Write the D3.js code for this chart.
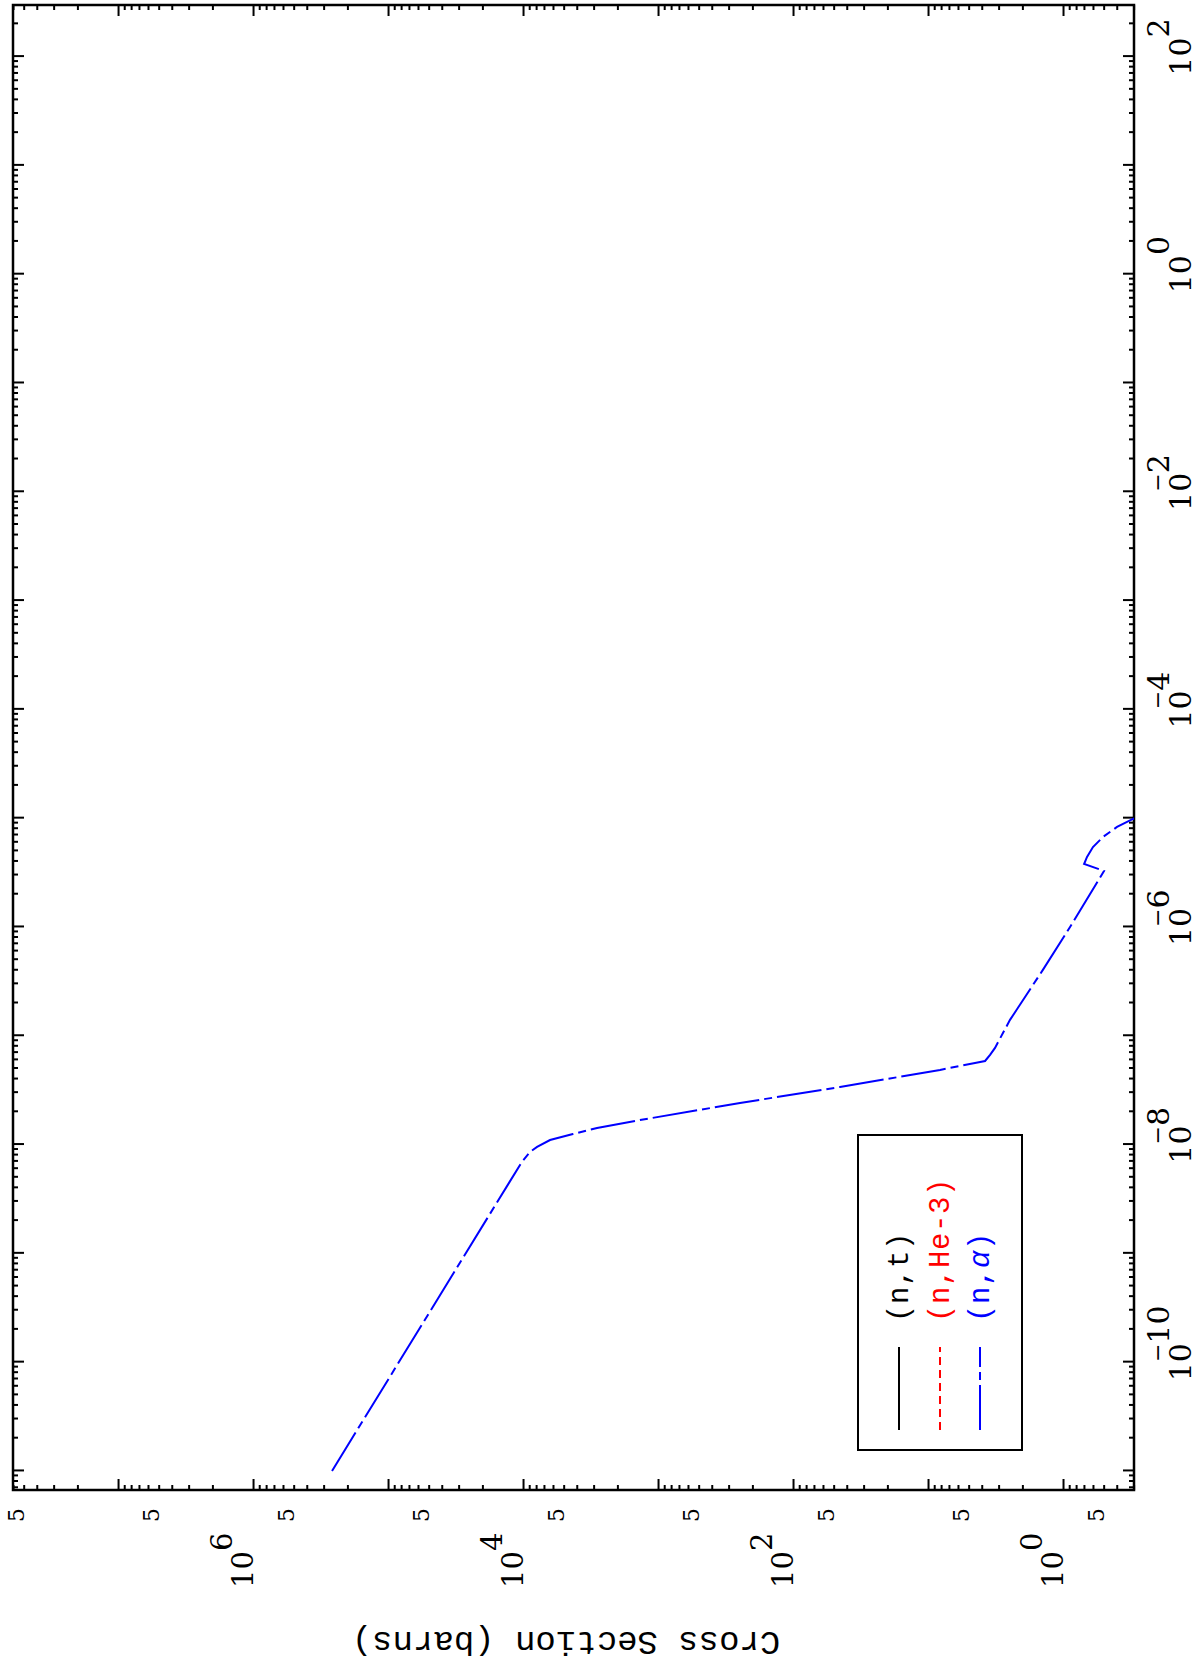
<!DOCTYPE html>
<html>
<head>
<meta charset="utf-8">
<script src="https://cdn.jsdelivr.net/npm/d3@7"></script>
<style>
body { margin: 0; background: #fff; }
</style>
</head>
<body>
<div id="chart"></div>
<script>
// series (energy in eV, cross section in barns)
const seriesNames = ["(n,t)", "(n,He-3)", "(n,\u03b1)"];
const ntEnergy = [], ntSigma = [];
const he3Energy = [], he3Sigma = [];
const alphaEnergy = [1.0e-11, 6.92e-9, 8.55e-9, 9.5e-9, 1.10e-8, 1.25e-8, 1.42e-8, 1.68e-8,
    2.41e-8, 3.38e-8, 4.85e-8, 5.62e-8, 5.86e-8, 6.67e-8, 7.73e-8, 1.40e-7, 4.03e-7, 1.0e-6,
    3.27e-6, 3.79e-6, 4.40e-6, 5.43e-6, 6.71e-6, 8.30e-6, 9.84e-6, 1.10e-5];
const alphaSigma = [2.6e5, 1.02e4, 8.87e3, 7.87e3, 6.31e3, 4.27e3, 2.83e3, 1.36e3,
    247, 44.9, 8.15, 4.49, 3.78, 3.47, 3.19, 2.47, 1.41, 0.887,
    0.497, 0.698, 0.664, 0.600, 0.506, 0.398, 0.303, 0.227];

// tick labels
const energyLabelExp = [-10, -8, -6, -4, -2, 0, 2];
const sigmaLabelExp = [0, 2, 4, 6];
const sigmaFiveExp = [-1, 0, 1, 2, 3, 4, 5, 6, 7];

// styles
const colors = ["#000000", "#ff0000", "#0000ff"];
const dashes = [null, "8,5", "45,5,8,5"];

const W = 1199, H = 1663;
// plot is drawn in landscape and turned by -90 degrees
const fLeft = 173, fRight = 1658, fTop = 13, fBottom = 1134;

let x = d3.scaleLog().domain([6.68e-12, 298]).range([fLeft, fRight]);
let y = d3.scaleLog().domain([0.298, 6.0e7]).range([fBottom, fTop]);

let svg = d3.select("#chart").append("svg")
    .attr("width", W)
    .attr("height", H)
    .style("background", "#fff");

let g = svg.append("g")
    .attr("transform", "translate(0," + H + ") rotate(-90)");

g.append("clipPath").attr("id", "frame")
    .append("rect")
    .attr("x", fLeft).attr("y", fTop)
    .attr("width", fRight - fLeft).attr("height", fBottom - fTop);

// tick values
function majorMinor(scale, e0, e1) {
    let [lo, hi] = scale.domain();
    let major = [], minor = [];
    for (let e = e0; e <= e1; e++) {
        let m = Math.pow(10, e);
        if (m >= lo && m <= hi) major.push(m);
        for (let k = 2; k <= 9; k++) {
            let v = k * m;
            if (v >= lo && v <= hi) minor.push(v);
        }
    }
    return [major, minor];
}
let [eMajor, eMinor] = majorMinor(x, -12, 2);
let [sMajor, sMinor] = majorMinor(y, -1, 7);

function drawTicks(axis, pos, vals, size) {
    let a = g.append("g")
        .attr("transform", pos)
        .call(axis.tickValues(vals).tickSize(size).tickSizeOuter(0).tickFormat(""));
    a.select(".domain").remove();
    a.selectAll("line").attr("stroke", "#000").attr("stroke-width", 2);
}
drawTicks(d3.axisBottom(x), "translate(0," + fBottom + ")", eMajor, -11);
drawTicks(d3.axisBottom(x), "translate(0," + fBottom + ")", eMinor, -5);
drawTicks(d3.axisTop(x), "translate(0," + fTop + ")", eMajor, -11);
drawTicks(d3.axisTop(x), "translate(0," + fTop + ")", eMinor, -5);
drawTicks(d3.axisLeft(y), "translate(" + fLeft + ",0)", sMajor, -11);
drawTicks(d3.axisLeft(y), "translate(" + fLeft + ",0)", sMinor, -5);
drawTicks(d3.axisRight(y), "translate(" + fRight + ",0)", sMajor, -11);
drawTicks(d3.axisRight(y), "translate(" + fRight + ",0)", sMinor, -5);

g.append("rect")
    .attr("x", fLeft).attr("y", fTop)
    .attr("width", fRight - fLeft).attr("height", fBottom - fTop)
    .attr("fill", "none")
    .attr("stroke", "#000")
    .attr("stroke-width", 2.5);

// energy labels: "10" centred on the tick, exponent hanging after it
energyLabelExp.forEach(function (e) {
    let t = g.append("text")
        .attr("y", 1191)
        .style("font-family", "'DejaVu Serif', serif")
        .style("font-size", "30px")
        .attr("fill", "#000");
    let base = t.append("tspan").text("10");
    if (e < 0) {
        t.append("tspan").text("\u2212").attr("dx", -19).attr("dy", -26).style("font-size", "22px");
        t.append("tspan").text(String(-e)).attr("dy", 4);
    } else {
        t.append("tspan").text(String(e)).attr("dy", -22);
    }
    let len = base.node().getComputedTextLength();
    t.attr("x", x(Math.pow(10, e)) - len / 2);
});

// cross-section labels
sigmaLabelExp.forEach(function (e) {
    let t = g.append("text")
        .attr("x", 75)
        .attr("y", y(Math.pow(10, e)))
        .style("font-family", "'DejaVu Serif', serif")
        .style("font-size", "29px")
        .attr("fill", "#000");
    t.append("tspan").text("10");
    t.append("tspan").text(String(e)).attr("dy", -21);
});

g.selectAll(".five")
    .data(sigmaFiveExp)
    .enter()
    .append("text")
    .attr("class", "five")
    .attr("x", 148)
    .attr("y", function (d) { return y(5 * Math.pow(10, d)); })
    .attr("text-anchor", "middle")
    .style("font-family", "'DejaVu Serif', serif")
    .style("font-size", "22px")
    .text("5");

g.append("text")
    .attr("transform", "translate(22,566) rotate(-90)")
    .attr("text-anchor", "middle")
    .attr("dominant-baseline", "central")
    .style("font-family", "'Liberation Mono', monospace")
    .style("font-size", "34px")
    .text("Cross Section (barns)");

// curves
let series = [
    {e: ntEnergy, s: ntSigma},
    {e: he3Energy, s: he3Sigma},
    {e: alphaEnergy, s: alphaSigma}
];
let line = d3.line()
    .x(function (d) { return x(d[0]); })
    .y(function (d) { return y(d[1]); });

let curves = g.append("g").attr("clip-path", "url(#frame)");
series.forEach(function (sr, i) {
    let pts = sr.e.map(function (v, j) { return [v, sr.s[j]]; });
    if (pts.length < 2) return;
    curves.append("path")
        .attr("d", line(pts))
        .attr("fill", "none")
        .attr("stroke", colors[i])
        .attr("stroke-width", 2)
        .attr("stroke-dasharray", dashes[i]);
});

// legend
let legend = g.append("g");
legend.append("rect")
    .attr("x", 213).attr("y", 858)
    .attr("width", 315).attr("height", 164)
    .attr("fill", "#fff")
    .attr("stroke", "#000")
    .attr("stroke-width", 2);
let rowY = [899, 940, 980];
seriesNames.forEach(function (name, i) {
    legend.append("line")
        .attr("x1", 233).attr("x2", 316)
        .attr("y1", rowY[i]).attr("y2", rowY[i])
        .attr("stroke", colors[i])
        .attr("stroke-width", 2)
        .attr("stroke-dasharray", dashes[i]);
    let t = legend.append("text")
        .attr("x", 341)
        .attr("y", rowY[i] + 9)
        .attr("fill", colors[i])
        .style("font-family", "'Liberation Mono', monospace")
        .style("font-size", "29px")
        .style("letter-spacing", "0.6px");
    if (name.indexOf("\u03b1") >= 0) {
        t.append("tspan").text("(n,");
        t.append("tspan").text("\u03b1").style("font-style", "italic");
        t.append("tspan").text(")");
    } else {
        t.text(name);
    }
});
</script>
</body>
</html>
